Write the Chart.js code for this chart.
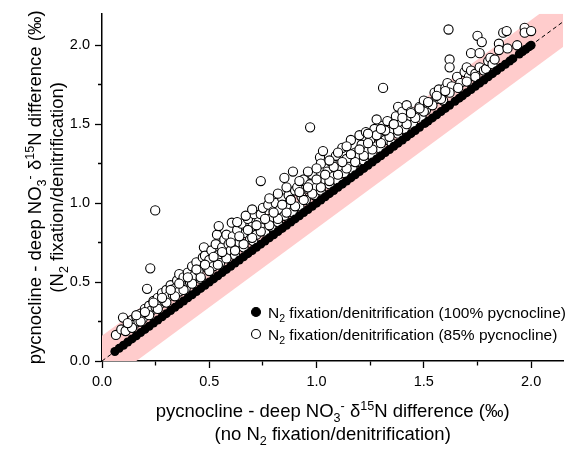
<!DOCTYPE html>
<html>
<head>
<meta charset="utf-8">
<script src="https://cdn.jsdelivr.net/npm/chart.js@4"></script>
<style>
  body { margin: 0; background: #fff; }
  #wrap { width: 569px; height: 452px; }
</style>
</head>
<body>
<div id="wrap"><canvas id="grafico"></canvas></div>
<script>
// 100% pycnocline (on the 1:1 line)
var fullX = [0.06,0.08,0.10,0.12,0.14,0.16,0.18,0.20,0.22,0.24,0.26,0.28,0.30,0.32,0.34,0.36,0.38,0.40,0.42,0.44,0.46,0.48,0.50,0.52,0.54,0.56,0.58,0.60,0.62,0.64,0.66,0.68,0.70,0.72,0.74,0.76,0.78,0.80,0.82,0.84,0.86,0.88,0.90,0.92,0.94,0.96,0.98,1.00,1.02,1.04,1.06,1.08,1.10,1.12,1.14,1.16,1.18,1.20,1.22,1.24,1.26,1.28,1.30,1.32,1.34,1.36,1.38,1.40,1.42,1.44,1.46,1.48,1.505,1.52,1.54,1.56,1.58,1.60,1.62,1.645,1.665,1.68,1.70,1.72,1.74,1.76,1.78,1.80,1.82,1.84,1.86,1.88,1.90,1.915,1.945,1.96,1.975,1.99,2.00];
var fullY = [0.06,0.08,0.10,0.12,0.14,0.16,0.18,0.20,0.22,0.24,0.26,0.28,0.30,0.32,0.34,0.36,0.38,0.40,0.42,0.44,0.46,0.48,0.50,0.52,0.54,0.56,0.58,0.60,0.62,0.64,0.66,0.68,0.70,0.72,0.74,0.76,0.78,0.80,0.82,0.84,0.86,0.88,0.90,0.92,0.94,0.96,0.98,1.00,1.02,1.04,1.06,1.08,1.10,1.12,1.14,1.16,1.18,1.20,1.22,1.24,1.26,1.28,1.30,1.32,1.34,1.36,1.38,1.40,1.42,1.44,1.46,1.48,1.505,1.52,1.54,1.56,1.58,1.60,1.62,1.645,1.665,1.68,1.70,1.72,1.74,1.76,1.78,1.80,1.82,1.84,1.86,1.88,1.90,1.915,1.945,1.96,1.975,1.99,2.00];

// 85% pycnocline (open circles)
var partX = [
  0.065,0.09,0.098,0.12,0.11,0.14,0.15,0.16,0.17,0.18,0.19,0.20,0.21,0.21,0.225,0.248,
  0.22,0.23,0.24,0.25,0.26,0.27,0.28,0.29,0.30,0.31,0.32,0.33,0.34,0.35,0.36,0.36,0.37,0.38,0.39,0.40,0.41,
  0.42,0.43,0.44,0.45,0.46,0.47,0.475,0.48,0.49,0.50,0.51,0.52,0.53,0.536,0.54,0.544,0.55,0.56,0.57,0.58,0.58,0.59,0.60,
  0.605,0.61,0.62,0.63,0.64,0.65,0.66,0.67,0.68,0.69,0.70,0.705,0.71,0.72,0.73,0.74,0.74,0.74,0.75,0.76,0.775,0.78,0.79,0.80,
  0.81,0.82,0.83,0.84,0.85,0.85,0.86,0.87,0.88,0.89,0.89,0.90,0.91,0.92,0.93,0.94,0.94,0.95,0.96,0.97,0.97,0.98,0.99,1.00,
  1.016,1.02,1.03,1.04,1.02,1.05,1.06,1.07,1.08,1.09,1.10,1.11,1.12,1.13,1.14,1.15,1.16,1.17,1.18,1.19,1.20,1.20,
  1.21,1.22,1.23,1.24,1.25,1.26,1.27,1.28,1.28,1.29,1.30,1.31,1.31,1.32,1.33,1.34,1.35,1.36,1.37,1.38,1.38,1.39,1.40,1.41,1.42,
  1.43,1.44,1.45,1.46,1.48,1.49,1.50,1.51,1.52,1.54,1.55,1.56,1.57,1.58,1.59,1.60,1.61,1.615,1.62,1.62,1.63,
  1.655,1.67,1.69,1.70,1.71,1.72,1.72,1.74,1.75,1.76,1.76,1.77,1.78,1.79,1.80,1.81,1.82,
  1.83,1.85,1.85,1.87,1.886,1.89,1.935,1.97,1.97,2.00,
  0.14,0.18,0.22,0.26,0.30,0.34,0.38,0.42,0.46,0.50,0.54,0.58,0.62,0.66,0.70,0.74,0.78,0.82,0.86,0.90,0.94,0.98,1.02,1.06,1.10,1.14,1.18,1.22,1.26,1.30,1.34,1.38,1.42,1.46,1.50,1.54,1.58,1.62,1.66,1.70,1.74,
  0.12,0.16,0.20,0.24,0.28,0.32,0.36,0.40,0.44,0.48,0.52,0.56,0.60,0.64,0.68,0.72,0.76,0.80,0.84,0.88,0.92,0.96,1.00,1.04,1.08,1.12,1.16,1.20,1.24,1.28,1.32,1.36,1.40,1.44,1.48,1.52,1.56,1.60,
  0.63,0.67,0.70,0.78,0.82,0.86,0.92,0.96,1.00,1.06,1.10,1.14,1.24,1.30
];
var partY = [
  0.165,0.20,0.275,0.22,0.19,0.26,0.23,0.28,0.25,0.30,0.27,0.33,0.30,0.457,0.587,0.954,
  0.35,0.32,0.38,0.34,0.40,0.36,0.43,0.38,0.45,0.41,0.48,0.42,0.46,0.51,0.55,0.44,0.50,0.53,0.46,0.56,0.50,
  0.60,0.54,0.625,0.57,0.52,0.656,0.72,0.667,0.59,0.64,0.70,0.60,0.74,0.80,0.67,0.855,0.62,0.72,0.77,0.80,0.66,0.74,0.70,
  0.876,0.79,0.67,0.83,0.75,0.87,0.72,0.81,0.90,0.77,0.85,0.76,0.93,0.80,0.88,0.845,0.93,1.14,0.97,0.82,0.99,0.90,0.85,0.95,
  1.00,0.88,0.96,1.03,0.92,1.16,0.99,1.05,1.02,0.94,1.20,1.08,1.10,0.98,1.04,1.14,1.15,1.02,1.09,1.48,1.12,1.18,1.05,1.10,
  1.29,1.25,1.33,1.15,1.08,1.20,1.12,1.26,1.17,1.30,1.14,1.22,1.35,1.19,1.28,1.23,1.40,1.21,1.32,1.26,1.43,1.30,
  1.37,1.27,1.45,1.33,1.40,1.30,1.47,1.53,1.36,1.42,1.34,1.73,1.49,1.40,1.52,1.45,1.38,1.50,1.55,1.44,1.61,1.50,1.58,1.47,1.62,
  1.53,1.58,1.50,1.55,1.61,1.54,1.65,1.59,1.63,1.64,1.70,1.66,1.72,1.67,1.65,1.73,1.76,2.10,1.91,1.86,1.74,
  1.80,1.76,1.83,1.86,1.80,1.95,1.84,1.82,2.06,1.95,1.86,2.02,1.84,1.85,1.90,1.92,1.88,
  1.91,2.01,1.97,2.08,2.09,1.98,2.00,2.11,2.08,2.09,
  0.21,0.25,0.29,0.33,0.37,0.41,0.45,0.49,0.53,0.57,0.61,0.65,0.70,0.74,0.78,0.82,0.86,0.90,0.94,0.98,1.02,1.06,1.10,1.14,1.18,1.22,1.26,1.30,1.34,1.38,1.42,1.46,1.50,1.54,1.58,1.62,1.66,1.70,1.73,1.77,1.80,
  0.24,0.29,0.31,0.37,0.40,0.45,0.49,0.53,0.58,0.61,0.66,0.69,0.75,0.79,0.83,0.86,0.90,0.94,0.99,1.02,1.07,1.10,1.15,1.18,1.23,1.26,1.31,1.34,1.38,1.43,1.46,1.50,1.54,1.57,1.60,1.64,1.68,1.71,
  0.88,0.92,0.96,1.03,1.06,1.10,1.14,1.20,1.22,1.27,1.32,1.36,1.44,1.47
];

// 1:1 line and the pink envelope round it
var lineX = [0, 2.15];
var lineY = [0, 2.15];
var bandUpper = [0.16, 2.31];
var bandLower = [-0.16, 1.99];

var xTicks = [0, 0.5, 1.0, 1.5, 2.0];
var yTicks = [0, 0.5, 1.0, 1.5, 2.0];

var legendLabels = [
  [['N', 'n'], ['2', 'sub'], [' fixation/denitrification (100% pycnocline)', 'n']],
  [['N', 'n'], ['2', 'sub'], [' fixation/denitrification (85% pycnocline)', 'n']]
];

function pares(xs, ys) {
  var out = [];
  for (var i = 0; i < xs.length; i++) out.push({ x: xs[i], y: ys[i] });
  return out;
}

var FONTE = '"Liberation Sans", Arial, sans-serif';

// text with sub/superscripts
function larguraRica(ctx, partes, size) {
  var w = 0;
  partes.forEach(function (p) {
    var s = p[1] === 'n' ? size : size * 0.68;
    ctx.font = s + 'px ' + FONTE;
    w += ctx.measureText(p[0]).width;
  });
  return w;
}
function textoRico(ctx, partes, x, y, size, centro) {
  var w = larguraRica(ctx, partes, size);
  var cx = centro ? x - w / 2 : x;
  ctx.textBaseline = 'alphabetic';
  ctx.textAlign = 'left';
  ctx.fillStyle = '#000';
  partes.forEach(function (p) {
    var s = p[1] === 'n' ? size : size * 0.68;
    var dy = p[1] === 'sub' ? size * 0.28 : (p[1] === 'sup' ? -size * 0.4 : 0);
    ctx.font = s + 'px ' + FONTE;
    ctx.fillText(p[0], cx, y + dy);
    cx += ctx.measureText(p[0]).width;
  });
}

var tituloEixo = [['pycnocline - deep NO', 'n'], ['3', 'sub'], ['-', 'sup'], [' \u03b4', 'n'], ['15', 'sup'], ['N difference (\u2030)', 'n']];
var tituloX2 = [['(no N', 'n'], ['2', 'sub'], [' fixation/denitrification)', 'n']];
var tituloY2 = [['(N', 'n'], ['2', 'sub'], [' fixation/denitrification)', 'n']];

var extras = {
  id: 'extras',
  afterDraw: function (chart) {
    var ctx = chart.ctx;
    var a = chart.chartArea;
    ctx.save();
    // x axis title
    var cx = (a.left + a.right) / 2;
    textoRico(ctx, tituloEixo, cx, a.bottom + 56, 18.5, true);
    textoRico(ctx, tituloX2, cx, a.bottom + 79, 18.5, true);
    // y axis title
    var cy = (a.top + a.bottom) / 2;
    ctx.save();
    ctx.translate(41, cy);
    ctx.rotate(-Math.PI / 2);
    textoRico(ctx, tituloEixo, 0, 0, 18.5, true);
    ctx.restore();
    ctx.save();
    ctx.translate(63, cy);
    ctx.rotate(-Math.PI / 2);
    textoRico(ctx, tituloY2, 0, 0, 18.5, true);
    ctx.restore();
    // legend
    var lx = a.left + 154, ly = a.bottom - 49;
    for (var i = 0; i < 2; i++) {
      var y = ly + i * 22;
      ctx.beginPath();
      ctx.arc(lx, y, 4.5, 0, Math.PI * 2);
      ctx.fillStyle = i === 0 ? '#000' : '#fff';
      ctx.fill();
      ctx.lineWidth = 1.1;
      ctx.strokeStyle = '#000';
      ctx.stroke();
      textoRico(ctx, legendLabels[i], lx + 12, y + 5.5, 15.5, false);
    }
    ctx.restore();
  }
};

function eixo(max, ticks, horizontal) {
  return {
    type: 'linear',
    min: 0,
    max: max,
    border: { color: '#000', width: 1.5 },
    grid: {
      drawOnChartArea: false,
      tickLength: 7,
      tickColor: '#000',
      tickWidth: 1.3,
      tickBorderDash: function (c) {
        var major = ticks.indexOf(Math.round(c.tick.value * 100) / 100) >= 0;
        if (major) return [];
        return horizontal ? [4, 100] : [0, 3, 4, 100];
      }
    },
    ticks: {
      stepSize: 0.25,
      includeBounds: false,
      padding: 5,
      color: '#000',
      font: { family: FONTE, size: 14.5 },
      maxRotation: 0,
      autoSkip: false,
      callback: function (v) {
        return ticks.indexOf(Math.round(v * 100) / 100) >= 0 ? v.toFixed(1) : '';
      }
    },
    afterFit: function (s) {
      if (horizontal) s.height = 91; else s.width = 102;
    }
  };
}

new Chart(document.getElementById('grafico'), {
  type: 'scatter',
  data: {
    datasets: [
      {
        label: 'N2 fixation/denitrification (100% pycnocline)',
        data: pares(fullX, fullY),
        pointRadius: 4.5,
        pointBackgroundColor: '#000',
        pointBorderColor: '#000',
        pointBorderWidth: 0,
        order: 0
      },
      {
        label: 'N2 fixation/denitrification (85% pycnocline)',
        data: pares(partX, partY),
        pointRadius: 4.6,
        pointBackgroundColor: '#fff',
        pointBorderColor: '#000',
        pointBorderWidth: 1.1,
        order: 1
      },
      {
        label: '1:1',
        type: 'line',
        data: pares(lineX, lineY),
        borderColor: '#000',
        borderWidth: 1,
        borderDash: [4, 3],
        pointRadius: 0,
        fill: false,
        order: 2
      },
      {
        label: 'upper',
        type: 'line',
        data: pares(lineX, bandUpper),
        borderWidth: 0,
        pointRadius: 0,
        fill: false,
        order: 3
      },
      {
        label: 'lower',
        type: 'line',
        data: pares(lineX, bandLower),
        borderWidth: 0,
        pointRadius: 0,
        backgroundColor: 'rgb(255, 204, 204)',
        fill: '-1',
        order: 4
      }
    ]
  },
  options: {
    responsive: true,
    maintainAspectRatio: false,
    animation: false,
    layout: { padding: { top: 11, right: 0, left: 0, bottom: 0 } },
    plugins: {
      legend: { display: false },
      tooltip: { enabled: false }
    },
    scales: {
      x: eixo(2.15, xTicks, true),
      y: eixo(2.2, yTicks, false)
    }
  },
  plugins: [extras]
});
</script>
</body>
</html>
